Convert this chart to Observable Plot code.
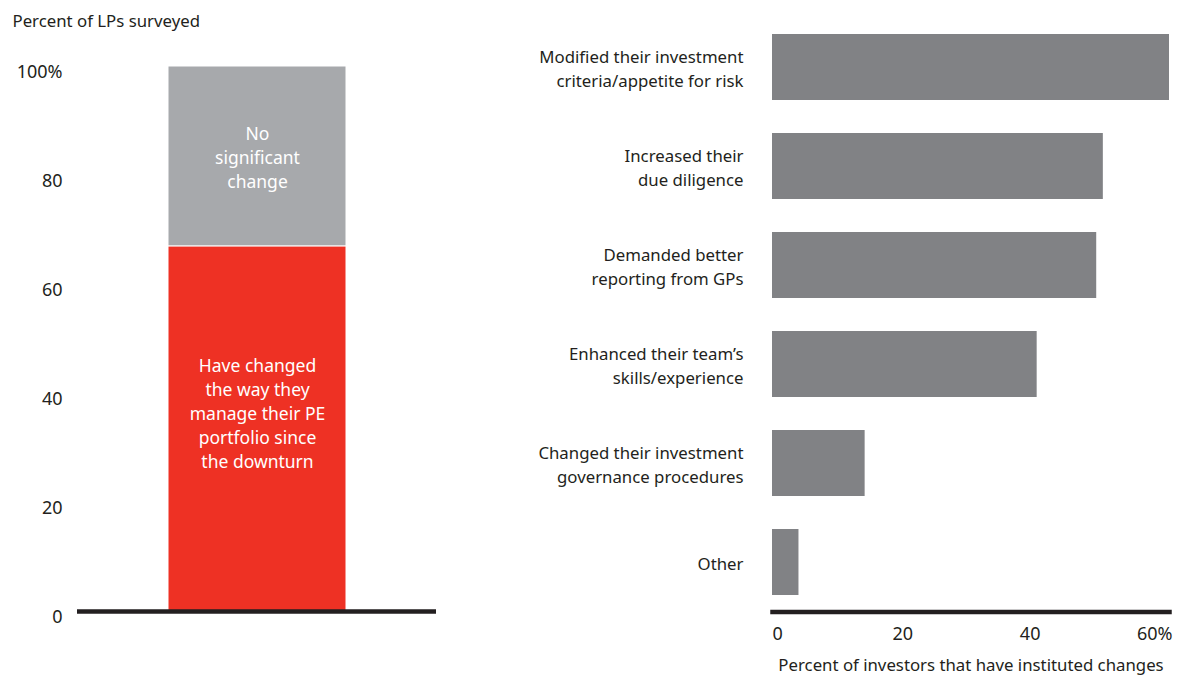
<!DOCTYPE html>
<html><head><meta charset="utf-8">
<script src="https://cdn.jsdelivr.net/npm/d3@7"></script>
<script src="https://cdn.jsdelivr.net/npm/@observablehq/plot@0.6"></script>
<style>
body{margin:0;background:#fff;font-family:"Noto Sans",sans-serif;}
#wrap{position:relative;width:1178px;height:677px;overflow:hidden;}
#left{position:absolute;left:0;top:0;}
#right{position:absolute;left:460px;top:0;}
</style></head><body><div id="wrap"><div id="left"></div><div id="right"></div></div>
<script>
// Left panel: share of LPs surveyed
const leftTitle = "Percent of LPs surveyed";
const stackSegments = ["Have changed the way they manage their PE portfolio since the downturn", "No significant change"];
const stackLabels = ["Have changed\nthe way they\nmanage their PE\nportfolio since\nthe downturn", "No\nsignificant\nchange"];
const stackValues = [67, 33];
const stackColors = ["#ee3124", "#a7a9ac"];
const leftTicks = [0, 20, 40, 60, 80, 100];

// Right panel: changes instituted
const rightTitle = "Percent of investors that have instituted changes";
const changeCategories = [
  "Modified their investment criteria/appetite for risk",
  "Increased their due diligence",
  "Demanded better reporting from GPs",
  "Enhanced their team’s skills/experience",
  "Changed their investment governance procedures",
  "Other"
];
const changeLabels = [
  "Modified their investment\ncriteria/appetite for risk",
  "Increased their\ndue diligence",
  "Demanded better\nreporting from GPs",
  "Enhanced their team’s\nskills/experience",
  "Changed their investment\ngovernance procedures",
  "Other"
];
const changeValues = [60, 50, 49, 40, 14, 4];
const rightTicks = [0, 20, 40, 60];

const ink = "#231f20";
const font = {fontFamily: "Noto Sans", fontSize: "16.8px", color: ink, background: "white", overflow: "visible"};
const tickFont = 18;

const starts = [0, ...d3.cumsum(stackValues)].slice(0, stackValues.length);
const leftData = stackSegments.map((s, i) => ({group: "LPs", segment: s, label: stackLabels[i], value: stackValues[i], start: starts[i]}));

const left = Plot.plot({
  width: 460, height: 677,
  marginLeft: 77, marginRight: 24, marginTop: 66, marginBottom: 66,
  style: font,
  x: {domain: ["LPs"], padding: 0.337, axis: null},
  y: {domain: [0, 100]},
  color: {domain: stackSegments, range: stackColors},
  marks: [
    Plot.barY(leftData, Plot.stackY({x: "group", y: "value", fill: "segment", order: stackSegments, stroke: "white", strokeWidth: 1})),
    Plot.text(leftData.slice(0, 1), {x: "group", y: d => d.start + d.value / 2, text: "label", fill: "white", lineHeight: 1.37, fontSize: 17.5, dy: -17}),
    Plot.text(leftData.slice(1), {x: "group", y: d => d.start + d.value / 2, text: "label", fill: "white", lineHeight: 1.37, fontSize: 17.5}),
    Plot.axisY(leftTicks, {tickSize: 0, tickPadding: 15, dy: 6, label: null, fontSize: tickFont,
      tickFormat: d => d === 100 ? "100%" : String(d)}),
    Plot.ruleY([0], {stroke: ink, strokeWidth: 4.5}),
    Plot.text([leftTitle], {frameAnchor: "top-left", dx: -65, dy: -51, textAnchor: "start"})
  ]
});
document.getElementById("left").append(left);

const rightData = changeCategories.map((c, i) => ({category: c, value: changeValues[i]}));
const right = Plot.plot({
  width: 718, height: 677,
  marginLeft: 312, marginRight: 9, marginTop: 18, marginBottom: 65.5,
  style: font,
  x: {domain: [0, 60]},
  y: {domain: changeCategories, paddingInner: 0.33, paddingOuter: 0.157},
  marks: [
    Plot.barX(rightData, {y: "category", x: "value", fill: "#818285"}),
    Plot.axisY({tickSize: 0, tickPadding: 29, label: null, lineHeight: 1.42,
      tickFormat: c => changeLabels[changeCategories.indexOf(c)]}),
    Plot.axisX(rightTicks.slice(0, 1), {tickSize: 0, tickPadding: 15, textAnchor: "start", label: null, fontSize: tickFont}),
    Plot.axisX(rightTicks.slice(1, 2), {tickSize: 0, tickPadding: 15, dx: -2, label: null, fontSize: tickFont}),
    Plot.axisX(rightTicks.slice(2, 3), {tickSize: 0, tickPadding: 15, dx: -7, label: null, fontSize: tickFont}),
    Plot.axisX(rightTicks.slice(3), {tickSize: 0, tickPadding: 15, dx: 3, textAnchor: "end", label: null, fontSize: tickFont, tickFormat: d => d + "%"}),
    Plot.frame({anchor: "bottom", stroke: ink, strokeWidth: 4.5}),
    Plot.text([rightTitle], {frameAnchor: "bottom", dy: 59})
  ]
});
document.getElementById("right").append(right);
</script>
</body></html>
